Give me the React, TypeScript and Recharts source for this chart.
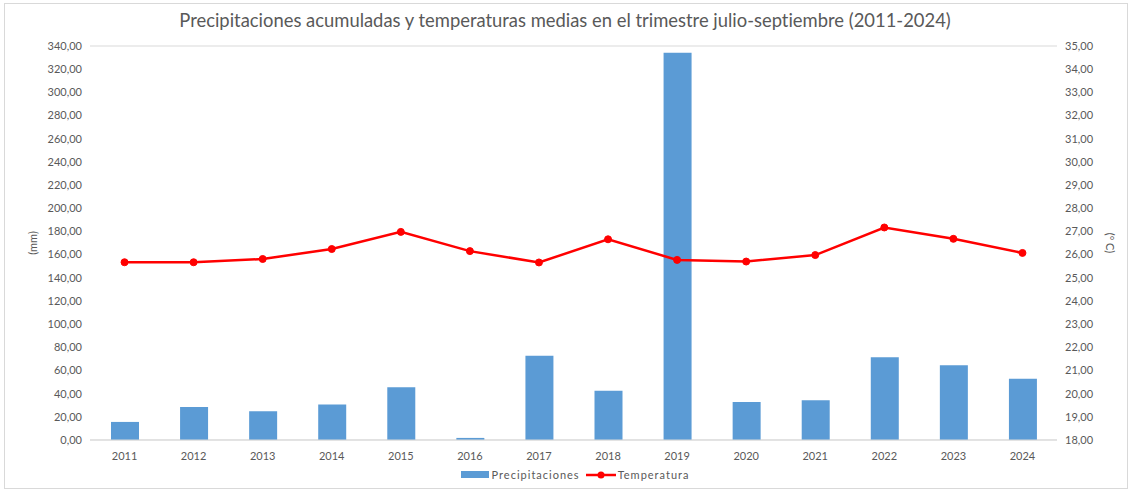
import React from 'react';
import {
  ComposedChart,
  Bar,
  Line,
  XAxis,
  YAxis,
  CartesianGrid,
  Legend,
  Label,
} from 'recharts';

const years = ['2011', '2012', '2013', '2014', '2015', '2016', '2017', '2018', '2019', '2020', '2021', '2022', '2023', '2024'];
const precipitaciones = [15.6, 28.4, 24.8, 30.6, 45.6, 1.8, 72.6, 42.4, 334.2, 32.8, 34.4, 71.4, 64.6, 52.8];
const temperatura = [25.67, 25.67, 25.81, 26.24, 26.98, 26.15, 25.66, 26.66, 25.77, 25.7, 25.98, 27.17, 26.68, 26.07];
const mmTicks = [0, 20, 40, 60, 80, 100, 120, 140, 160, 180, 200, 220, 240, 260, 280, 300, 320, 340];
const tempTicks = [18, 19, 20, 21, 22, 23, 24, 25, 26, 27, 28, 29, 30, 31, 32, 33, 34, 35];

const data = years.map((year, i) => ({
  year,
  precipitaciones: precipitaciones[i],
  temperatura: temperatura[i],
}));

const FONT = 'Lato, "Noto Sans", sans-serif';
const GREY = '#595959';
const fmt = (v: number) => v.toFixed(2).replace('.', ',');

const LegendContent = () => (
  <div
    style={{
      display: 'flex',
      justifyContent: 'center',
      alignItems: 'center',
      fontFamily: FONT,
      fontSize: 11,
      color: GREY,
      letterSpacing: 1,
      paddingLeft: 20,
      marginTop: 1,
    }}
  >
    <span style={{ display: 'inline-block', width: 28, height: 7, background: '#5b9bd5', marginRight: 3 }} />
    <span style={{ marginRight: 6 }}>Precipitaciones</span>
    <svg width={30} height={10} style={{ marginRight: 2 }}>
      <line x1={0} y1={5} x2={30} y2={5} stroke="#ff0000" strokeWidth={2.5} />
      <circle cx={15} cy={5} r={3.5} fill="#ff0000" />
    </svg>
    <span>Temperatura</span>
  </div>
);

const App: React.FC = () => {
  return (
    <div style={{ position: 'absolute', left: 0, top: 0, width: 1130, height: 491, background: '#fff' }}>
      <div
        style={{
          position: 'absolute',
          left: 4,
          top: 3,
          width: 1122,
          height: 484,
          border: '1px solid #d9d9d9',
        }}
      />
      <div
        style={{
          position: 'absolute',
          top: 9,
          left: 0,
          width: 1130,
          textAlign: 'center',
          fontFamily: FONT,
          fontSize: 18.4,
          color: GREY,
          fontVariantLigatures: 'none',
        }}
      >
        Precipitaciones acumuladas y temperaturas medias en el trimestre julio-septiembre (2011-2024)
      </div>
      <ComposedChart
        width={1130}
        height={491}
        data={data}
        margin={{ top: 46, right: 18, bottom: 5, left: 20 }}
      >
        <CartesianGrid vertical={false} stroke="#d9d9d9" />
        <XAxis
          dataKey="year"
          tickLine={false}
          axisLine={{ stroke: '#d9d9d9' }}
          tick={{ fill: GREY, fontSize: 11, fontFamily: FONT }}
          height={30}
          tickMargin={6}
        />
        <YAxis
          yAxisId="mm"
          domain={[0, 340]}
          ticks={mmTicks}
          interval={0}
          tickFormatter={fmt}
          axisLine={false}
          tickLine={false}
          width={70}
          tick={{ fill: GREY, fontSize: 11, fontFamily: FONT }}
        >
          <Label
            value="(mm)"
            angle={-90}
            position="insideLeft"
            offset={13}
            style={{ fill: GREY, fontSize: 11, fontFamily: FONT, textAnchor: 'middle' }}
          />
        </YAxis>
        <YAxis
          yAxisId="t"
          orientation="right"
          domain={[18, 35]}
          ticks={tempTicks}
          interval={0}
          tickFormatter={fmt}
          axisLine={false}
          tickLine={false}
          width={55}
          tick={{ fill: GREY, fontSize: 11, fontFamily: FONT }}
        >
          <Label
            value="(º C)"
            angle={90}
            position="insideRight"
            offset={2}
            style={{ fill: GREY, fontSize: 11, fontFamily: FONT, textAnchor: 'middle' }}
          />
        </YAxis>
        <Bar
          yAxisId="mm"
          dataKey="precipitaciones"
          name="Precipitaciones"
          fill="#5b9bd5"
          barSize={28}
          isAnimationActive={false}
        />
        <Line
          yAxisId="t"
          dataKey="temperatura"
          name="Temperatura"
          stroke="#ff0000"
          strokeWidth={2.5}
          dot={{ r: 3.5, fill: '#ff0000', stroke: '#ff0000', strokeWidth: 1 }}
          activeDot={false}
          isAnimationActive={false}
        />
        <Legend
          content={<LegendContent />}
          wrapperStyle={{ position: 'absolute', top: 467, left: 0, width: 1130, height: 16 }}
        />
      </ComposedChart>
    </div>
  );
};

export default App;
